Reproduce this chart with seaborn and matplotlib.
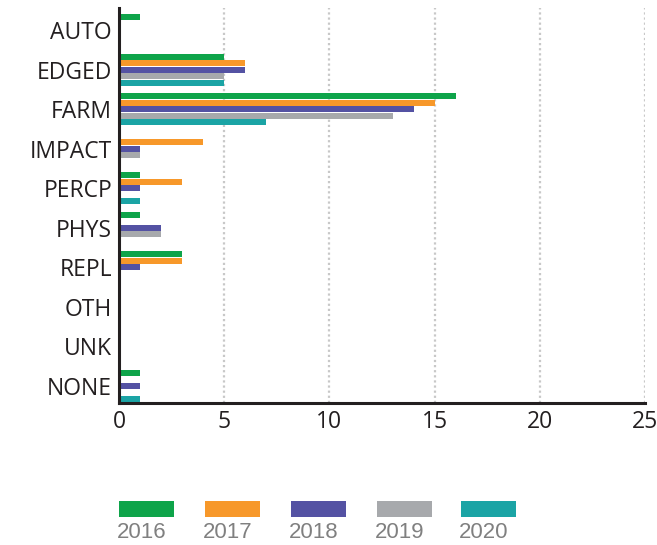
import numpy as np
import pandas as pd
import matplotlib
matplotlib.use("Agg")
import matplotlib.pyplot as plt
from matplotlib.patches import Rectangle
import seaborn as sns

categories = ["AUTO", "EDGED", "FARM", "IMPACT", "PERCP", "PHYS", "REPL", "OTH", "UNK", "NONE"]
years = ["2016", "2017", "2018", "2019", "2020"]
v2016 = [1, 5, 16, 0, 1, 1, 3, 0, 0, 1]
v2017 = [0, 6, 15, 4, 3, 0, 3, 0, 0, 0]
v2018 = [0, 6, 14, 1, 1, 2, 1, 0, 0, 1]
v2019 = [0, 5, 13, 1, 0, 2, 0, 0, 0, 0]
v2020 = [0, 5, 7, 0, 1, 0, 0, 0, 0, 1]
colors = ["#0ea44a", "#f7982a", "#5452a3", "#a7a9ac", "#1ba4a5"]
xticks = [0, 5, 10, 15, 20, 25]

series = [v2016, v2017, v2018, v2019, v2020]
rows = []
for y, vals in zip(years, series):
    for c, v in zip(categories, vals):
        rows.append({"cat": c, "year": y, "value": v})
df = pd.DataFrame(rows)

sns.set_style("white")
plt.rcParams["font.family"] = ["Open Sans", "DejaVu Sans"]

fig = plt.figure(figsize=(6.57, 5.45), dpi=100)
ax = fig.add_axes([119/657, 1 - 403/545, (645 - 119)/657, (403 - 8)/545])

sns.barplot(data=df, y="cat", x="value", hue="year", order=categories,
            hue_order=years, palette=colors, saturation=1, orient="h",
            width=0.82, gap=0.08, linewidth=0, errorbar=None, legend=False,
            ax=ax, zorder=3)

ax.set_xlim(0, 25)
ax.set_ylim(9.43, -0.556)
ax.set_xticks(xticks)
ax.set_xticklabels([str(t) for t in xticks])
for t in xticks[1:]:
    ax.axvline(t, color="#c8c8c8", lw=1.6, linestyle=(0, (1, 1.3)), zorder=1)
ax.set_xlabel("")
ax.set_ylabel("")
ax.tick_params(axis="both", length=0, labelsize=16.5, colors="#231f20")
ax.tick_params(axis="y", pad=5)
ax.tick_params(axis="x", pad=5)
for s in ["top", "right"]:
    ax.spines[s].set_visible(False)
for s in ["left", "bottom"]:
    ax.spines[s].set_color("#231f20")
    ax.spines[s].set_linewidth(2.2)
    ax.spines[s].set_zorder(5)

# legend: swatches above labels
lx = [119, 205, 291, 377, 461]
for x0, col, yr in zip(lx, colors, years):
    fig.patches.append(Rectangle((x0/657, 1 - 517/545), 55/657, 16/545,
                                 transform=fig.transFigure, color=col, lw=0))
    fig.text((x0 + 23)/657, 1 - 532/545, yr, ha="center", va="center",
             fontsize=16, color="#808080", family=["Liberation Sans", "DejaVu Sans"])

fig.savefig("out.png", dpi=100)
